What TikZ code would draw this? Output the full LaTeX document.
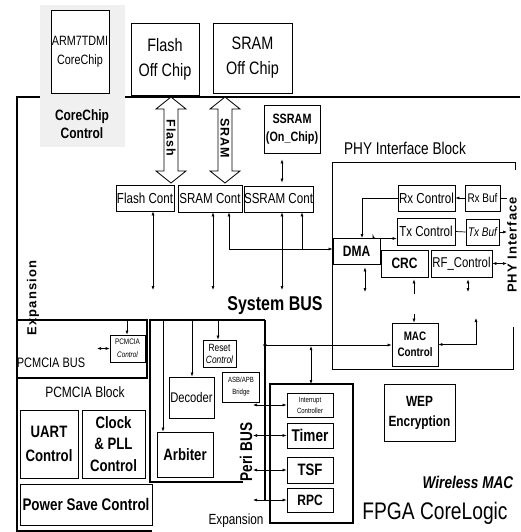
\documentclass[tikz,border=0pt]{standalone}
\usepackage{fontspec}
\setmainfont{Liberation Sans}[FakeStretch=0.8]
\newfontfamily\widef{Liberation Sans}[LetterSpace=8]
\usetikzlibrary{arrows.meta}
\newcommand\fsz[2]{\fontsize{#1}{#2}\selectfont}
\begin{document}
\begin{tikzpicture}[x=1pt,y=-1pt,
  box/.style={draw, line width=0.8pt, fill=white, inner sep=0pt, align=center},
  arr/.style={-{Latex[length=4pt,width=3pt]}, line width=0.6pt},
  dbl/.style={{Latex[length=4pt,width=3pt]}-{Latex[length=4pt,width=3pt]}, line width=0.6pt},
  frame/.style={line width=1.4pt},
  thin/.style={line width=0.7pt},
  txt/.style={inner sep=0pt, align=center}]
\useasboundingbox (0,0) rectangle (520,532);
% outer frame
\draw[frame] (520,97) -- (17,97) -- (17,531) -- (152,531);
% stippled core chip region
\fill[gray!12] (40,5) rectangle (125,147);
\node[box, minimum width=58pt, minimum height=83pt, font=\fsz{13.5}{19}] (arm) at (80,51.5) {ARM7TDMI\\CoreChip};
\node[txt, font=\fsz{15}{18}\bfseries] (ccc) at (82,124) {CoreChip\\Control};
% off chip memories
\node[box, minimum width=68pt, minimum height=72pt, font=\fsz{18}{25}] (flash) at (165,59) {Flash\\Off Chip};
\node[box, minimum width=79pt, minimum height=70pt, font=\fsz{18}{25}] (sram) at (252.5,58) {SRAM\\Off Chip};
% hollow double arrows
\draw[line width=0.8pt, fill=white] (171,97) -- (186,109) -- (178,109) -- (178,171) -- (186,171) -- (171,183) -- (156,171) -- (164,171) -- (164,109) -- (156,109) -- cycle;
\draw[line width=0.8pt, fill=white] (225,97) -- (240,109) -- (232,109) -- (232,171) -- (240,171) -- (225,183) -- (210,171) -- (218,171) -- (218,109) -- (210,109) -- cycle;
\node[txt, rotate=-90, font=\widef\fsz{12.5}{14}\bfseries] (flashlbl) at (171,138) {Flash};
\node[txt, rotate=-90, font=\widef\fsz{12.5}{14}\bfseries] (sramlbl) at (225,138) {SRAM};
% on-chip memory and controllers
\node[box, minimum width=56pt, minimum height=48pt, font=\fsz{13.5}{18}\bfseries] (ssramoc) at (292,129) {SSRAM\\(On\_Chip)};
\node[box, minimum width=58pt, minimum height=26pt, font=\fsz{14.5}{16}] (flashcont) at (145,198) {Flash Cont};
\node[box, minimum width=64pt, minimum height=27pt, font=\fsz{14.5}{16}] (sramcont) at (210,198.5) {SRAM Cont};
\node[box, minimum width=69pt, minimum height=26pt, font=\fsz{14.5}{16}] (ssramcont) at (278.5,199) {SSRAM Cont};
% PHY interface block
\draw[thin] (513,327) -- (513,369) -- (332,369) -- (332,162) -- (515,162) -- (515,170);
\node[txt, font=\fsz{17}{19}] (phyblk) at (405,148) {PHY Interface Block};
\node[txt, rotate=90, font=\widef\fsz{13}{15}\bfseries] (phyif) at (512,245) {PHY Interface};
\node[box, minimum width=57pt, minimum height=26pt, font=\fsz{14.5}{16}] (rxc) at (426.5,198) {Rx Control};
\node[box, minimum width=35pt, minimum height=26pt, font=\fsz{12.5}{14}] (rxb) at (482.5,198) {Rx Buf};
\node[box, minimum width=58pt, minimum height=27pt, font=\fsz{14.5}{16}] (txc) at (426,231.5) {Tx Control};
\node[box, minimum width=33pt, minimum height=26pt, font=\fsz{12.5}{14}\itshape] (txb) at (482.5,232) {Tx Buf};
\node[box, minimum width=47pt, minimum height=26pt, font=\fsz{15}{17}\bfseries] (dma) at (356.5,251) {DMA};
\node[box, minimum width=47pt, minimum height=27pt, font=\fsz{15}{17}\bfseries] (crc) at (404.5,263.5) {CRC};
\node[box, minimum width=61pt, minimum height=27pt, font=\fsz{14.2}{16}] (rfc) at (461.5,263.5) {RF\_Control};
\node[box, minimum width=46pt, minimum height=43pt, font=\fsz{12.3}{16}\bfseries] (mac) at (415,344.5) {MAC\\Control};
\node[box, minimum width=71pt, minimum height=57pt, font=\fsz{14.8}{20}\bfseries] (wep) at (419.5,412.5) {WEP\\Encryption};
% system bus
\node[txt, font=\fsz{20}{22}\bfseries] (sysbus) at (275,306) {System BUS};
\draw[line width=1.8pt] (243,482) -- (150,482) -- (150,320) -- (265,320);
\draw[line width=1.1pt] (265,320) -- (265,500);
\node[box, minimum width=33pt, minimum height=27pt, font=\fsz{10.5}{12}] (reset) at (219.5,353.5) {Reset\\\itshape Control};
\node[box, minimum width=45pt, minimum height=41pt, font=\fsz{14}{16}] (decoder) at (191.5,397.5) {Decoder};
\node[box, line width=0.5pt, minimum width=37pt, minimum height=30pt, font=\fsz{7.5}{12}] (bridge) at (241,387) {ASB/APB\\Bridge};
\node[box, minimum width=56pt, minimum height=45pt, font=\fsz{16.5}{18}\bfseries] (arbiter) at (185,454.5) {Arbiter};
\node[txt, rotate=90, font=\fsz{17}{19}\bfseries] (peribus) at (246,452) {Peri BUS};
\node[txt, font=\fsz{14.7}{16}] (expb) at (236,521) {Expansion};
% PCMCIA
\draw[line width=1.1pt] (17,320) -- (147,320) -- (147,378) -- (17,378);
\node[box, line width=0.6pt, minimum width=35pt, minimum height=27pt, font=\fsz{8}{13}] (pcmciac) at (127.5,348.5) {PCMCIA\\\itshape Control};
\node[txt, font=\fsz{13.7}{15}] (pcmbus) at (51,363) {PCMCIA BUS};
\node[txt, font=\fsz{15}{17}] (pcmblk) at (85,392) {PCMCIA Block};
\node[txt, rotate=90, font=\widef\fsz{13}{15}\bfseries] (expl) at (33,298) {Expansion};
\node[box, minimum width=58pt, minimum height=68pt, font=\fsz{16.5}{24}\bfseries] (uart) at (49,444) {UART\\Control};
\node[box, minimum width=63pt, minimum height=68pt, font=\fsz{16.5}{21.5}\bfseries] (clock) at (113.5,444) {Clock\\\& PLL\\Control};
\node[box, minimum width=132pt, minimum height=41pt, font=\fsz{16.8}{18}\bfseries] (power) at (86,504.5) {Power Save Control};
% peripherals
\draw[line width=1.8pt] (270,384) rectangle (353,523);
\coordinate (periN) at (311,384);
\node[box, minimum width=46pt, minimum height=24pt, font=\fsz{7.5}{11}] (intc) at (310,405) {Interrupt\\Controller};
\node[box, minimum width=46pt, minimum height=25pt, font=\fsz{17}{19}\bfseries] (timer) at (310,435.5) {Timer};
\node[box, minimum width=46pt, minimum height=26pt, font=\fsz{16.5}{18}\bfseries] (tsf) at (310,470) {TSF};
\node[box, minimum width=46pt, minimum height=24pt, font=\fsz{15}{17}\bfseries] (rpc) at (310,500) {RPC};
% labels bottom right
\node[txt, font=\fsz{17}{19}\bfseries\itshape] (wmac) at (468,482) {Wireless MAC};
\node[txt, font=\fsz{24}{26}] (fpga) at (435,513) {FPGA CoreLogic};
% ---- connectors ----
\coordinate (fcb) at (153,290);
\coordinate (scb) at (213,290);
\coordinate (sscb) at (282,290);
\draw[dbl] (flashcont.south -| fcb) -- (fcb);
\draw[dbl] (sramcont.south -| scb) -- (scb);
\draw[dbl] (ssramcont.south -| sscb) -- (sscb);
\draw[dbl, shorten <=6pt, shorten >=3pt] (ssramoc.south -| sscb) -- (ssramcont.north -| sscb);
\coordinate (j1) at (229,249);
\coordinate (j2) at (302,249);
\draw[arr] (j1) -- (sramcont.south -| j1);
\draw[arr] (j2) -- (ssramcont.south -| j2);
\draw[arr, line width=0.6pt] (j1) -- (dma.west |- j1);
\coordinate (rxd) at (362,238);
\draw[arr] (rxc.west) -| (rxd);
\coordinate (txd) at (373,238);
\draw[arr, rounded corners=3pt] (txd) |- ([yshift=-7pt]txc.west);
\draw[arr] (rxb.west) -- (rxc.east);
\coordinate (rxin) at (507,198);
\draw[thin] (rxb.east) -- (rxin);
\draw[thin] (txc.east) -- (txb.west);
\coordinate (txout) at (507,232);
\draw[arr] (txb.east) -- (txout);
\coordinate (rfout) at (507,263.5);
\draw[dbl] (rfc.east) -- (rfout);
\coordinate (dmab) at (365,292);
\draw[dbl, shorten <=3pt] (dma.south -| dmab) -- (dmab);
\coordinate (crcb) at (414,294);
\draw[arr, shorten >=2pt] (crcb) -- (crc.south -| crcb);
\coordinate (rfb) at (468,292);
\draw[dbl, shorten <=2pt] (rfc.south -| rfb) -- (rfb);
\coordinate (mact) at (414,314);
\draw[arr] (mact) -- (mac.north -| mact);
\coordinate (macr) at (476,318);
\draw[dbl] (macr) |- (mac.east);
\coordinate (bdot) at (265,345);
\fill (bdot) circle (1.8pt);
\draw[arr] (bdot) -- (mac.west |- bdot);
\draw[dbl, shorten <=1pt] (bdot -| periN) -- (periN);
\coordinate (rst) at (218,320);
\draw[arr] (rst) -- (reset.north -| rst);
\coordinate (dct) at (192,320);
\draw[arr] (dct) -- (decoder.north -| dct);
\fill (dct) circle (1.2pt);
\coordinate (abt) at (163,320);
\draw[arr] (abt) -- (arbiter.north -| abt);
\fill (abt) circle (1.2pt);
\coordinate (pct) at (127,320);
\draw[arr] (pct) -- (pcmciac.north -| pct);
\coordinate (pcl) at (97,348.5);
\draw[dbl] (pcl) -- (pcmciac.west);
\coordinate (p1) at (253,405);
\coordinate (p2) at (253,435.5);
\coordinate (p3) at (253,470);
\coordinate (p4) at (253,500);
\draw[dbl] (p1) -- (intc.west);
\draw[dbl] (p2) -- (timer.west);
\draw[dbl] (p3) -- (tsf.west);
\draw[dbl] (p4) -- (rpc.west);
\end{tikzpicture}
\end{document}
